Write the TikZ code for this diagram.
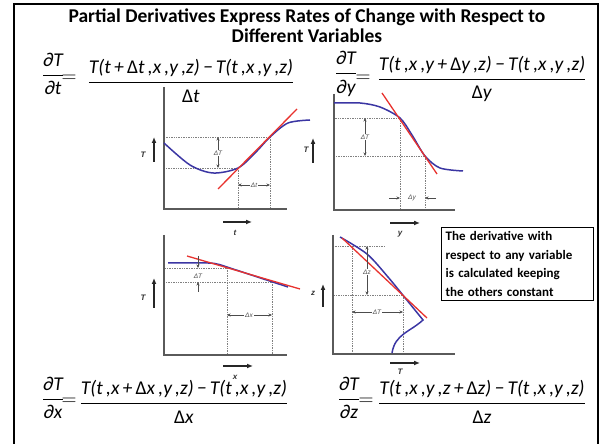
\documentclass[tikz,border=0pt]{standalone}
\usepackage{amsmath}
\usepackage{fontspec}
\setmainfont{Carlito}
\newfontfamily\plotfont{Liberation Sans}
\usetikzlibrary{arrows.meta}
\definecolor{curveBlue}{HTML}{3B36A3}
\definecolor{tangentRed}{HTML}{E8322E}
\definecolor{axisGray}{HTML}{5A5A5A}

\newcommand{\pdT}[1]{$\dfrac{\text{\itshape ∂T}}{\text{\itshape ∂#1}}$}
\newcommand{\diffq}[2]{$\dfrac{\text{\itshape #1}}{\text{#2}}$}

\begin{document}
\begin{tikzpicture}[x=1pt, y=1pt,
    axis/.style={axisGray, line width=1.5pt},
    guide/.style={gray, densely dotted, line width=0.7pt},
    curve/.style={curveBlue, line width=1.5pt},
    tangent/.style={tangentRed, line width=1.3pt},
    dim/.style={-{Stealth[length=3.5pt, width=3pt]}, black!70, line width=0.6pt},
    dimlabel/.style={font=\plotfont\itshape\fontsize{6.5}{7}\selectfont, text=black!70, inner sep=1pt},
    axlabel/.style={font=\plotfont\bfseries\itshape\fontsize{8}{9}\selectfont, text=black!80},
    dirarrow/.style={-{Latex[length=6pt, width=5pt]}, line width=1.6pt, black!85},
    eqn/.style={font=\fontsize{19.5}{23}\selectfont, inner sep=0pt}]
    \useasboundingbox (0,0) rectangle (602,444);

    % Frame and title
    \draw[line width=2pt] (14,-2) |- (598,440) -- (598,-2);
    \node[font=\bfseries\fontsize{19.5}{20}\selectfont, align=center] (title) at (307,418)
        {Partial Derivatives Express Rates of Change with Respect to\\Different Variables};

    % Equations
    \node[eqn] (dTdt) at (53,370) {\pdT{t}};
    \node[eqn] (eqt) at (69,365) {$=$};
    \node[eqn] (qt) at (191,363) {\diffq{T(t\,+\,{\upshape Δ}t\,,x\,,y\,,z)\,−\,T(t\,,x\,,y\,,z)}{Δ\textit{t}}};
    \node[eqn] (dTdy) at (346,370) {\pdT{y}};
    \node[eqn] (eqy) at (363,365) {$=$};
    \node[eqn] (qy) at (482,365) {\diffq{T(t\,,x\,,y\,+\,{\upshape Δ}y\,,z)\,−\,T(t\,,x\,,y\,,z)}{Δ\textit{y}}};
    \node[eqn] (dTdx) at (53,46) {\pdT{x}};
    \node[eqn] (eqx) at (69,42) {$=$};
    \node[eqn] (qx) at (184,42) {\diffq{T(t\,,x\,+\,{\upshape Δ}x\,,y\,,z)\,−\,T(t\,,x\,,y\,,z)}{Δ\textit{x}}};
    \node[eqn] (dTdz) at (349,46) {\pdT{z}};
    \node[eqn] (eqz) at (366,42) {$=$};
    \node[eqn] (qz) at (482,42) {\diffq{T(t\,,x\,,y\,,z\,+\,{\upshape Δ}z)\,−\,T(t\,,x\,,y\,,z)}{Δ\textit{z}}};

    % Graph 1: T against t
    \coordinate (o1) at (164,235);
    \coordinate (a1) at (238,276);
    \coordinate (b1) at (270,307);
    \draw[guide] (a1) -- (a1 -| o1) (b1) -- (b1 -| o1) (a1) -- (a1 |- o1) (b1) -- (b1 |- o1);
    \draw[axis] (164,357) -- (o1) -- (287,235);
    \draw[curve] plot[smooth] coordinates {(164,301) (190,279) (213,271) (238,276) (256,292) (270,307) (288,321) (310,324)};
    \draw[tangent] (218,255) -- (297,335);
    \node[dimlabel] (dT1) at (218,291) {ΔT};
    \draw[dim] (dT1.north) -- (dT1.north |- b1);
    \draw[dim] (dT1.south) -- (dT1.south |- a1);
    \node[dimlabel] (dt1) at (254,259) {Δt};
    \draw[dim] (dt1.west) -- (dt1.west -| a1);
    \draw[dim] (dt1.east) -- (dt1.east -| b1);
    \node[axlabel] (T1) at (143,289) {T};
    \draw[dirarrow] (154,282) -- (154,307);
    \node[axlabel] (t1) at (235,211) {t};
    \draw[dirarrow] (223,222) -- (252,222);

    % Graph 2: T against y
    \coordinate (o2) at (334,234);
    \coordinate (a2) at (400,326);
    \coordinate (b2) at (425,288);
    \draw[guide] (a2) -- (a2 -| o2) (b2) -- (b2 -| o2) (a2) -- (a2 |- o2) (b2) -- (b2 |- o2);
    \draw[axis] (334,350) -- (o2) -- (455,234);
    \draw[curve] plot[smooth] coordinates {(334,341) (360,341) (380,337) (400,326) (412,309) (425,288) (440,276) (463,273)};
    \draw[tangent] (382,351) -- (437,270);
    \node[dimlabel] (dT2) at (365,307) {ΔT};
    \draw[dim] (dT2.north) -- (dT2.north |- a2);
    \draw[dim] (dT2.south) -- (dT2.south |- b2);
    \node[dimlabel] (dy2) at (412,246) {Δy};
    \draw[dim] (a2 |- dy2) ++(-11,0) -- (a2 |- dy2);
    \draw[dim] (b2 |- dy2) ++(11,0) -- (b2 |- dy2);
    \node[axlabel] (T2) at (306,294) {T};
    \draw[dirarrow] (313,281) -- (313,306);
    \node[axlabel] (y2) at (400,210) {y};
    \draw[dirarrow] (390,221) -- (420,221);

    % Graph 3: T against x
    \coordinate (o3) at (164,89);
    \coordinate (a3) at (227,176);
    \coordinate (b3) at (272,162);
    \draw[guide] (a3) -- (a3 -| o3) (b3) -- (b3 -| o3) (a3) -- (a3 |- o3) (b3) -- (b3 |- o3);
    \draw[axis] (164,209) -- (o3) -- (287,89);
    \draw[curve] (168,181) -- (208,181) to[out=0, in=162] (230,176) -- (288,157);
    \draw[tangent] (187,188) -- (300,155);
    \node[dimlabel] (dT3) at (198,168) {ΔT};
    \draw[dim] (dT3 |- a3) ++(0,12) -- (dT3 |- a3);
    \draw[dim] (dT3 |- b3) ++(0,-10) -- (dT3 |- b3);
    \node[dimlabel] (dx3) at (249,129) {Δx};
    \draw[dim] (dx3.west) -- (dx3.west -| a3);
    \draw[dim] (dx3.east) -- (dx3.east -| b3);
    \node[axlabel] (T3) at (143,146) {T};
    \draw[dirarrow] (154,136) -- (154,166);
    \node[axlabel] (x3) at (235,67) {x};
    \draw[dirarrow] (223,78) -- (253,78);

    % Graph 4: z against T
    \coordinate (o4) at (333,90);
    \coordinate (a4) at (352,198);
    \coordinate (b4) at (403,149);
    \draw[guide] (a4 -| o4) -- ++(52,0) (b4) -- (b4 -| o4) (a4) -- (a4 |- o4) (b4) -- (b4 |- o4);
    \draw[axis] (333,209) -- (o4) -- (455,90);
    \draw[curve] plot[smooth] coordinates {(340,207) (367,190) (388,167) (406,145) (423,124)}
        .. controls (410,112) and (395,110) .. (392,91);
    \draw[tangent] (342,206) -- (427,126);
    \node[dimlabel] (dz4) at (367,172) {Δz};
    \draw[dim] (dz4.north) -- (dz4.north |- a4);
    \draw[dim] (dz4.south) -- (dz4.south |- b4);
    \node[dimlabel] (dT4) at (377,132) {ΔT};
    \draw[dim] (dT4.west) -- (dT4.west -| a4);
    \draw[dim] (dT4.east) -- (dT4.east -| b4);
    \node[axlabel] (z4) at (313,151) {z};
    \draw[dirarrow] (323,137) -- (323,160);
    \node[axlabel] (T4) at (400,72) {T};
    \draw[dirarrow] (390,81) -- (420,81);

    % Note box
    \node[draw, line width=1.2pt, anchor=north west, text width=144pt, align=left, inner sep=4pt,
          font=\bfseries\fontsize{13}{18.5}\selectfont] (note) at (441,217)
        {The derivative with\\respect to any variable\\is calculated keeping\\the others constant};
\end{tikzpicture}
\end{document}
